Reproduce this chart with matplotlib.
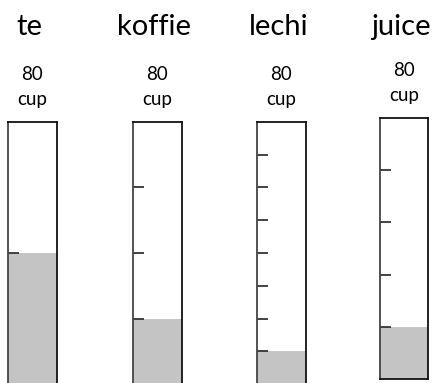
import matplotlib.pyplot as plt

# data
drinks = ['te', 'koffie', 'lechi', 'juice']
amounts = [40, 20, 10, 16]
capacity = [80, 80, 80, 80]
tick_step = [40, 20, 10, 16]
unit = 'cup'

plt.rcParams['font.family'] = ['Lato', 'DejaVu Sans']

W, H = 435, 383
fig = plt.figure(figsize=(W / 100, H / 100), dpi=100)

# cup boxes in pixels: left, top, width, height
boxes = [(8, 122, 49, 262), (133, 122, 49, 262), (257, 122, 49, 262), (380, 118, 48, 261)]

for i, name in enumerate(drinks):
    left, top, w, h = boxes[i]
    ax = fig.add_axes([left / W, (H - top - h) / H, w / W, h / H])
    ax.bar(0.5, amounts[i], width=1.0, color='#c4c4c4', zorder=1)
    ax.set_xlim(0, 1)
    ax.set_ylim(0, capacity[i])
    ticks = list(range(tick_step[i], capacity[i], tick_step[i]))
    ax.set_yticks(ticks)
    ax.set_xticks([])
    ax.tick_params(axis='y', direction='in', length=8, width=1.3, color='#333333',
                   labelleft=False)
    for s in ax.spines.values():
        s.set_color('#111111')
        s.set_linewidth(1.3)
        s.set_zorder(3)
    ax.spines['left'].set_color('#444444')

    cx = (left + w / 2) / W
    fig.text(cx - 3 / W, 1 - 27 / H, name, ha='center', va='center', fontsize=21)
    fig.text(cx, 1 - (top - 48) / H, str(capacity[i]), ha='center', va='center',
             fontsize=13.5)
    fig.text(cx, 1 - (top - 22) / H, unit, ha='center', va='center', fontsize=13.5)

fig.savefig('out.png', dpi=100)
